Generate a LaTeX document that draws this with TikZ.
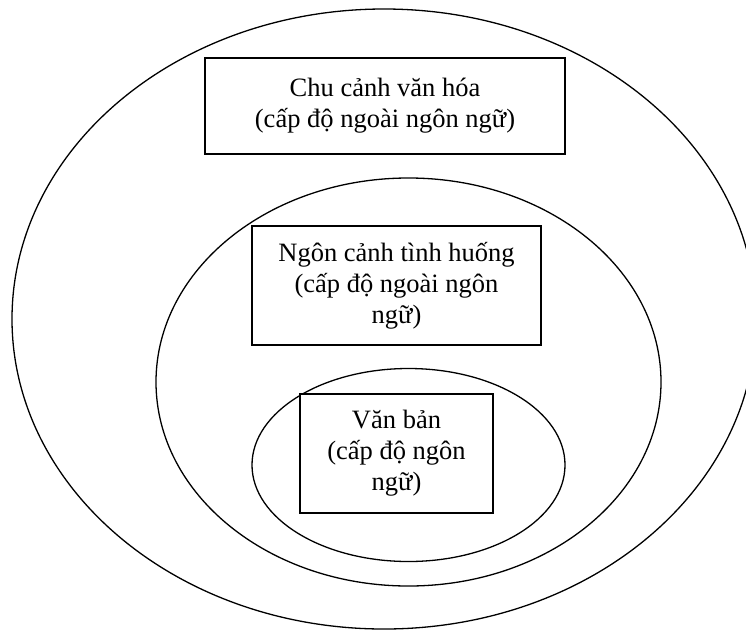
\documentclass[tikz,border=0pt]{standalone}
\usepackage{fontspec}
\setmainfont{Liberation Serif}
\begin{document}
\begin{tikzpicture}[x=1pt,y=-1pt,
  ring/.style={draw, line width=1.3pt},
  labelbox/.style={draw, fill=white, line width=1.6pt, align=center, inner sep=0pt,
    font=\fontsize{26.5}{31}\selectfont},
]
\useasboundingbox (0,0) rectangle (746,630);
\clip (0,0) rectangle (746,630);
\draw[ring] (384,319) ellipse [x radius=372, y radius=310];
\draw[ring] (408.5,382) ellipse [x radius=252.5, y radius=204];
\draw[ring] (408.5,465) ellipse [x radius=156.5, y radius=96.5];
\node[labelbox, minimum width=360pt, minimum height=96pt] (culture) at (385,106)
  {Chu cảnh văn hóa\\(cấp độ ngoài ngôn ngữ)};
\node[labelbox, minimum width=289pt, minimum height=119pt] (situation) at (396.5,285.5)
  {Ngôn cảnh tình huống\\(cấp độ ngoài ngôn\\ngữ)};
\node[labelbox, minimum width=193pt, minimum height=119pt] (text) at (396.5,453.5)
  {Văn bản\\(cấp độ ngôn\\ngữ)};
\end{tikzpicture}
\end{document}
